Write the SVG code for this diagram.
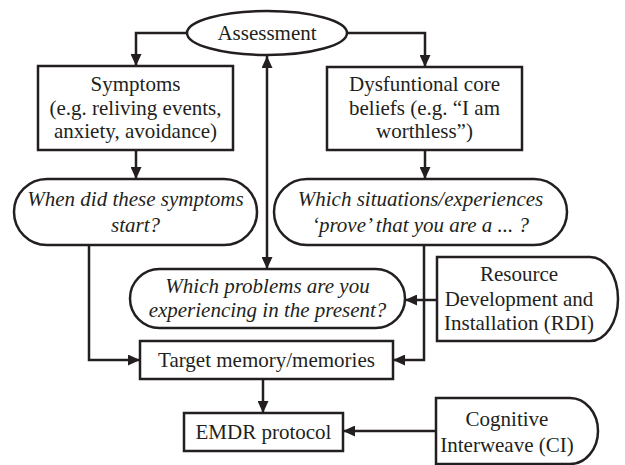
<svg xmlns="http://www.w3.org/2000/svg" width="625" height="465" viewBox="0 0 625 465">
<style>
.n{fill:#fff;stroke:#231f20;stroke-width:2.5}
text{font-family:'Liberation Serif','Times New Roman',Tinos,'DejaVu Serif',serif;font-size:21px;fill:#231f20;text-anchor:middle}
.i{font-style:italic}
.c{fill:none;stroke:#231f20;stroke-width:2.5}
</style>
<defs>
<marker id="ah" markerUnits="userSpaceOnUse" markerWidth="13" markerHeight="11" refX="12" refY="5.5" orient="auto-start-reverse">
<path d="M0,0 L12,5.5 L0,11 z" fill="#231f20"/>
</marker>
</defs>
<rect width="625" height="465" fill="#fff"/>
<g id="connectors">
<path class="c" d="M187,33 H136 V66" marker-end="url(#ah)"/>
<path class="c" d="M347,33 H425 V67" marker-end="url(#ah)"/>
<path class="c" d="M136,150 V179" marker-end="url(#ah)"/>
<path class="c" d="M425,150 V179" marker-end="url(#ah)"/>
<path class="c" d="M267,56 V269" marker-start="url(#ah)" marker-end="url(#ah)"/>
<path class="c" d="M89,245 V360 H140" marker-end="url(#ah)"/>
<path class="c" d="M424,245 V360 H393" marker-end="url(#ah)"/>
<path class="c" d="M437,300 H405" marker-end="url(#ah)"/>
<path class="c" d="M263,379 V413" marker-end="url(#ah)"/>
<path class="c" d="M436,431 H343" marker-end="url(#ah)"/>
</g>
<g id="assessment">
<ellipse class="n" cx="267" cy="33" rx="80" ry="22"/>
<text font-family="Liberation Serif, serif" x="267" y="40">Assessment</text>
</g>
<g id="symptoms">
<rect class="n" x="38" y="66" width="195" height="84"/>
<text x="135.5" y="91">Symptoms</text>
<text x="135.5" y="115">(e.g. reliving events,</text>
<text x="135.5" y="138">anxiety, avoidance)</text>
</g>
<g id="beliefs">
<rect class="n" x="327" y="67" width="195" height="83"/>
<text x="424.5" y="91">Dysfuntional core</text>
<text x="424.5" y="115">beliefs (e.g. “I am</text>
<text x="424.5" y="138">worthless”)</text>
</g>
<g id="when">
<rect class="n" x="14" y="179" width="243" height="66" rx="33"/>
<text class="i" x="135.5" y="206">When did these symptoms</text>
<text class="i" x="135.5" y="232">start?</text>
</g>
<g id="situations">
<rect class="n" x="274" y="179" width="293" height="66" rx="33"/>
<text class="i" x="420.5" y="206">Which situations/experiences</text>
<text class="i" x="420.5" y="232">‘prove’ that you are a ... ?</text>
</g>
<g id="problems">
<rect class="n" x="130" y="269" width="275" height="59" rx="29.5"/>
<text class="i" x="267.5" y="293">Which problems are you</text>
<text class="i" x="267.5" y="317">experiencing in the present?</text>
</g>
<g id="rdi">
<path class="n" d="M437,257 H590 A28,42 0 0 1 590,341 H437 Z"/>
<text x="519" y="281">Resource</text>
<text x="519" y="306">Development and</text>
<text x="519" y="330">Installation (RDI)</text>
</g>
<g id="target">
<rect class="n" x="140" y="341" width="253" height="38"/>
<text x="266.5" y="367">Target memory/memories</text>
</g>
<g id="emdr">
<rect class="n" x="184" y="413" width="159" height="38"/>
<text x="263.5" y="439">EMDR protocol</text>
</g>
<g id="ci">
<path class="n" d="M436,398 H570 A28,33 0 0 1 570,464 H436 Z"/>
<text x="507" y="426">Cognitive</text>
<text x="507" y="452">Interweave (CI)</text>
</g>
</svg>
